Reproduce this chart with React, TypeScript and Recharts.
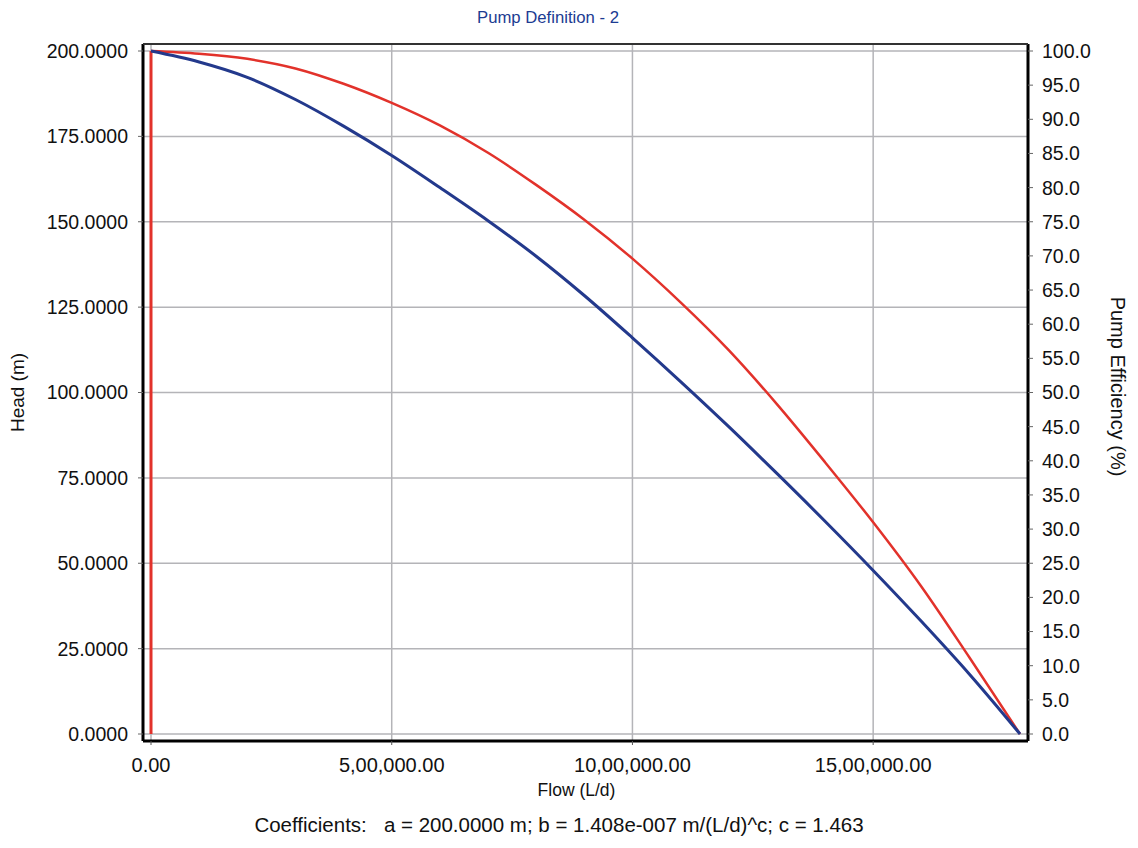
import { LineChart, Line, XAxis, YAxis, CartesianGrid } from "recharts"

// values
const FLOW = [0, 100000, 200000, 300000, 400000, 500000, 600000, 700000, 800000, 900000, 1000000, 1100000, 1200000, 1300000, 1400000, 1500000, 1600000, 1700000, 1805000]
const HEAD = [200, 196.8, 192.3, 185.8, 178, 169.4, 160, 150.3, 139.9, 128.4, 116, 103.2, 90, 76.3, 62.3, 47.9, 33, 17.5, 0]
const EFFICIENCY = [100, 99.6, 98.85, 97.45, 95.2, 92.4, 89.1, 85.1, 80.4, 75.3, 69.6, 63.2, 56.2, 48.3, 39.8, 31, 21.6, 11.2, 0]

// efficiency jumps from 0 to 100 at zero flow
const EFF_START_FLOW = [0, 0]
const EFF_START_VALUE = [0, 100]

const FLOW_TICKS = [0, 500000, 1000000, 1500000]
const HEAD_TICKS = [0, 25, 50, 75, 100, 125, 150, 175, 200]
const EFF_TICKS = [0, 5, 10, 15, 20, 25, 30, 35, 40, 45, 50, 55, 60, 65, 70, 75, 80, 85, 90, 95, 100]

const headData = FLOW.map((f, i) => ({ flow: f, head: HEAD[i] }))
const effData = FLOW.map((f, i) => ({ flow: f, eff: EFFICIENCY[i] }))
const effStartData = EFF_START_FLOW.map((f, i) => ({ flow: f, eff: EFF_START_VALUE[i] }))

const FONT = "'Liberation Sans', Arial, sans-serif"
const BLUE = "#23398c"
const RED = "#e2322b"

// indian digit grouping, e.g. 5,00,000.00
function formatFlow(v: number) {
  const s = Math.round(v).toString()
  let last3 = s.slice(-3)
  let rest = s.slice(0, -3)
  if (rest) last3 = "," + last3
  rest = rest.replace(/\B(?=(\d{2})+(?!\d))/g, ",")
  return rest + last3 + ".00"
}

const tickStyle = { fill: "#111", fontSize: 19.5, fontFamily: FONT }

export default function App() {
  return (
    <div style={{ position: "absolute", left: 0, top: 0, width: 1138, height: 848, background: "#fff", fontFamily: FONT }}>
      <div style={{ position: "absolute", left: 0, width: 1096, top: 8, textAlign: "center", fontSize: 16.7, color: "#1c3c92" }}>
        Pump Definition - 2
      </div>
      <LineChart width={1138} height={848} margin={{ top: 44, right: 10, bottom: 47, left: 8 }}>
        <CartesianGrid yAxisId="head" stroke="#b4b4b8" strokeWidth={1.5} verticalValues={FLOW_TICKS} />
        <XAxis
          dataKey="flow"
          type="number"
          domain={[0, 1805000]}
          ticks={FLOW_TICKS}
          tickFormatter={formatFlow}
          padding={{ left: 8, right: 8 }}
          height={60}
          tick={{ ...tickStyle, fontSize: 20 }}
          tickSize={4}
          tickMargin={13}
          axisLine={{ stroke: "#000", strokeWidth: 3 }}
          tickLine={{ stroke: "#555" }}
          allowDuplicatedCategory={false}
          label={{ value: "Flow (L/d)", position: "insideBottom", offset: 5, dx: -9, fill: "#111", fontSize: 17.5, fontFamily: FONT }}
        />
        <YAxis
          yAxisId="head"
          orientation="left"
          domain={[0, 200]}
          ticks={HEAD_TICKS}
          interval={0}
          tickFormatter={(v: number) => v.toFixed(4)}
          padding={{ top: 7, bottom: 7 }}
          width={135}
          tick={tickStyle}
          tickSize={5}
          tickMargin={10}
          axisLine={{ stroke: "#000", strokeWidth: 3 }}
          tickLine={{ stroke: "#666" }}
          label={{ value: "Head (m)", angle: -90, position: "insideLeft", offset: 9, fill: "#111", fontSize: 19, fontFamily: FONT, style: { textAnchor: "middle" } }}
        />
        <YAxis
          yAxisId="eff"
          orientation="right"
          domain={[0, 100]}
          ticks={EFF_TICKS}
          interval={0}
          tickFormatter={(v: number) => v.toFixed(1)}
          padding={{ top: 7, bottom: 7 }}
          width={100}
          tick={tickStyle}
          tickSize={5}
          tickMargin={9}
          axisLine={{ stroke: "#000", strokeWidth: 3 }}
          tickLine={{ stroke: "#666" }}
          label={{ value: "Pump Efficiency (%)", angle: 90, position: "insideRight", offset: 10, dy: -6, fill: "#111", fontSize: 20, fontFamily: FONT, style: { textAnchor: "middle" } }}
        />
        <Line yAxisId="eff" data={effStartData} dataKey="eff" type="linear" stroke={RED} strokeWidth={3} dot={false} isAnimationActive={false} />
        <Line yAxisId="eff" data={effData} dataKey="eff" type="monotone" stroke={RED} strokeWidth={2.5} dot={false} isAnimationActive={false} />
        <Line yAxisId="head" data={headData} dataKey="head" type="monotone" stroke={BLUE} strokeWidth={3} dot={false} isAnimationActive={false} />
      </LineChart>
      <div style={{ position: "absolute", left: 143, top: 43, width: 885, height: 0, borderTop: "2px solid #333" }} />
      <div style={{ position: "absolute", left: 0, width: 1118, top: 813, textAlign: "center", fontSize: 20.5, color: "#111", whiteSpace: "pre" }}>
        {"Coefficients:   a = 200.0000 m; b = 1.408e-007 m/(L/d)^c; c = 1.463"}
      </div>
    </div>
  )
}
